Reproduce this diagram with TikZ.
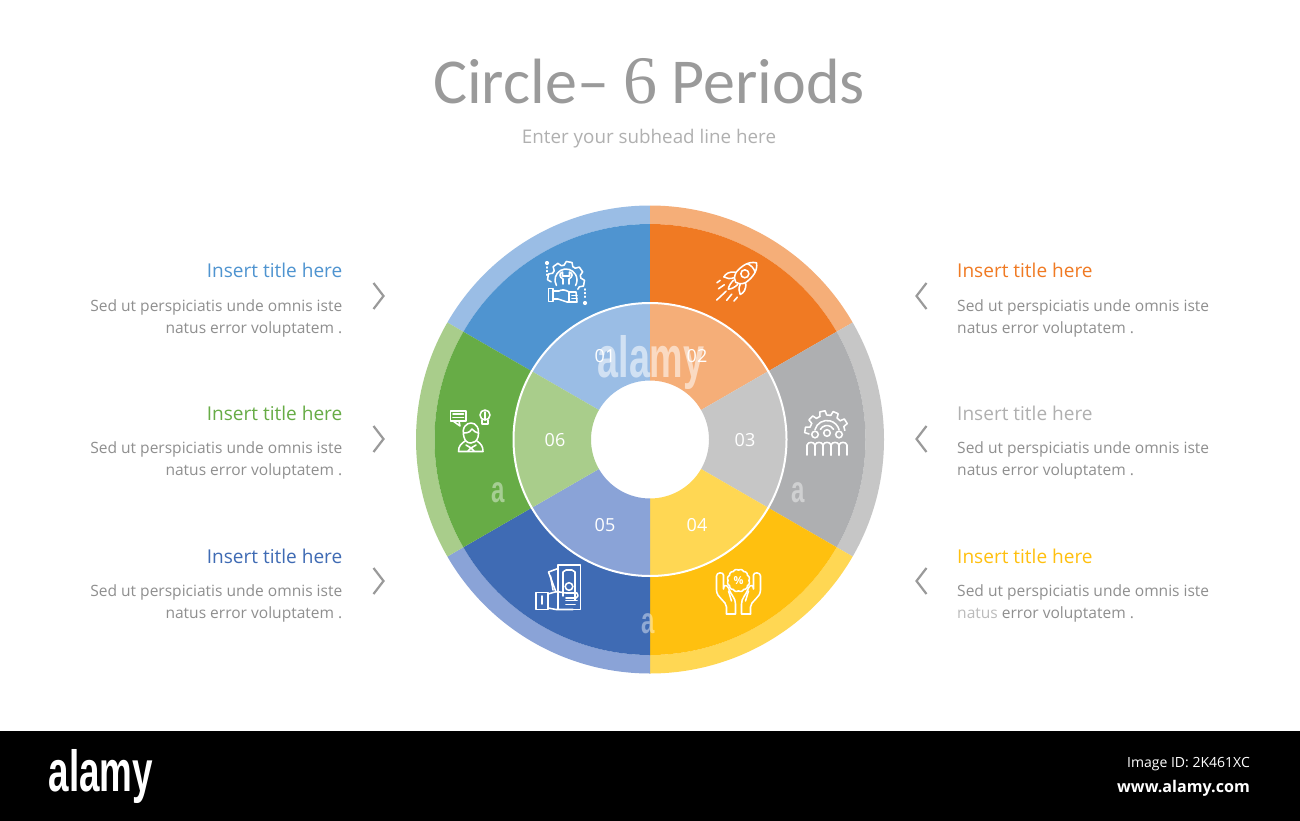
\documentclass[tikz,border=0pt]{standalone}
\usepackage{fontspec}
\setmainfont{Open Sans}
\newfontfamily\ttlfont{Carlito}
\newfontfamily\sixfont{Liberation Serif}
\newfontfamily\wmfont{Liberation Sans}
\usetikzlibrary{calc}
\definecolor{cBlue}{HTML}{4F94D0}\definecolor{lBlue}{HTML}{9ABDE5}
\definecolor{cOrange}{HTML}{F07A23}\definecolor{lOrange}{HTML}{F5AE78}
\definecolor{cGray}{HTML}{AEAFB1}\definecolor{lGray}{HTML}{C6C6C6}
\definecolor{cYellow}{HTML}{FFC00F}\definecolor{lYellow}{HTML}{FFD753}
\definecolor{cNavy}{HTML}{3F6BB4}\definecolor{lNavy}{HTML}{8AA3D7}
\definecolor{cGreen}{HTML}{67AC46}\definecolor{lGreen}{HTML}{A9CD8B}
\definecolor{tTitle}{HTML}{9A9A9A}\definecolor{tSub}{HTML}{B0B0B0}
\definecolor{tBody}{HTML}{8F8F8F}\definecolor{tChev}{HTML}{9A9A9A}
\newcommand{\ringsec}[5]{\fill[#5] (#1:#3) arc[start angle=#1,end angle=#2,radius=#3] -- (#2:#4) arc[start angle=#2,end angle=#1,radius=#4] -- cycle;}
\tikzset{
 ttl/.style={font=\fontsize{19.05}{22}\selectfont,inner sep=0pt},
 bodyL/.style={font=\fontsize{15.55}{22}\selectfont,text=tBody,align=right,anchor=east,inner sep=0pt},
 bodyR/.style={font=\fontsize{15.55}{22}\selectfont,text=tBody,align=left,anchor=west,inner sep=0pt},
 num/.style={font=\fontsize{18}{20}\selectfont,text=white,inner sep=0pt},
 chev/.style={draw=tChev,line width=2.2pt,line join=miter},
 ico/.style={draw=white,line width=1.55pt,line join=round,line cap=round},
 wm/.style={font=\wmfont\bfseries\fontsize{58}{58}\selectfont,text=white,opacity=.55,inner sep=0pt,xscale=.65},
 wmsmall/.style={wm,opacity=.42,font=\wmfont\bfseries\fontsize{37}{37}\selectfont},
 logotext/.style={font=\wmfont\bfseries\fontsize{58}{58}\selectfont,text=white,inner sep=0pt,xscale=.635},
}
\begin{document}
\begin{tikzpicture}[x=1pt,y=1pt,yscale=-1]
\useasboundingbox (0,0) rectangle (1300,821);
\fill[white] (0,0) rectangle (1300,821);
\fill[black] (0,731) rectangle (1300,821);
% wheel
\begin{scope}[shift={(650,439.5)}]
 \foreach \a/\b/\c/\d in {-150/-90/cBlue/lBlue,-90/-30/cOrange/lOrange,-30/30/cGray/lGray,30/90/cYellow/lYellow,90/150/cNavy/lNavy,150/210/cGreen/lGreen}{
  \ringsec{\a}{\b}{234}{215.5}{\d}
  \ringsec{\a}{\b}{215.5}{136.5}{\c}
  \ringsec{\a}{\b}{136.5}{59}{\d}
 }
 \draw[white,line width=2pt] (0,0) circle[radius=136.5];
\end{scope}
% title
\node[inner sep=0pt,text=tTitle,font=\ttlfont\fontsize{64}{70}\selectfont] (title) at (649,81) {Circle– {\sixfont\fontsize{68}{70}\selectfont 6} Periods};
\node[inner sep=0pt,text=tSub,font=\fontsize{18.8}{22}\selectfont] (sub) at (649,139) {Enter your subhead line here};
% left texts
\node[ttl,text=cBlue,anchor=east] (t1) at (342.5,270.5) {Insert title here};
\node[ttl,text=cGreen,anchor=east] (t6) at (342.5,413.5) {Insert title here};
\node[ttl,text=cNavy,anchor=east] (t5) at (342.5,556) {Insert title here};
\node[bodyL] (b1) at (342.5,318) {Sed ut perspiciatis unde omnis iste\\natus error voluptatem .};
\node[bodyL] (b6) at (342.5,460.5) {Sed ut perspiciatis unde omnis iste\\natus error voluptatem .};
\node[bodyL] (b5) at (342.5,603) {Sed ut perspiciatis unde omnis iste\\natus error voluptatem .};
% right texts
\node[ttl,text=cOrange,anchor=west] (t2) at (957,270.5) {Insert title here};
\node[ttl,text=tSub,anchor=west] (t3) at (957,413.5) {Insert title here};
\node[ttl,text=cYellow,anchor=west] (t4) at (957,556) {Insert title here};
\node[bodyR] (b2) at (957,318) {Sed ut perspiciatis unde omnis iste\\natus error voluptatem .};
\node[bodyR] (b3) at (957,460.5) {Sed ut perspiciatis unde omnis iste\\natus error voluptatem .};
\node[bodyR] (b4) at (957,603) {Sed ut perspiciatis unde omnis iste\\natus error voluptatem .};
\fill[white,opacity=.4] (957,606) rectangle (998,620);
% chevrons
\foreach \y in {296,439,581}{
 \draw[chev] (373.5,\y-13) -- (383.5,\y) -- (373.5,\y+13);
 \draw[chev] (926.5,\y-13) -- (916.5,\y) -- (926.5,\y+13);
}
% watermark (behind numbers)
\node[wm] (wmain) at (651,363) {alamy};
\node[wmsmall] (wa1) at (498,493) {a};
\node[wmsmall] (wa2) at (798,493) {a};
\node[wmsmall] (wa3) at (648,624) {a};
% numbers
\node[num] (n1) at (605,356.5) {01};
\node[num] (n2) at (697,356.5) {02};
\node[num] (n3) at (745,440.5) {03};
\node[num] (n4) at (697,525.5) {04};
\node[num] (n5) at (605,525.5) {05};
\node[num] (n6) at (555,440.5) {06};
% icon 1: gear, wrench and hand
\begin{scope}[shift={(566,280)}]
 \foreach \a in {-170,-125,-80,-35,10}{
  \draw[ico] (\a-17:15) -- (\a-9:18.5) -- (\a+9:18.5) -- (\a+17:15) arc[start angle=\a+17,end angle=\a+28,radius=15];
 }
 \draw[ico] (150:11) arc[start angle=150,end angle=390,radius=11];
 \draw[ico] (-3,4) -- (-3,-1) .. controls (-7,-3) and (-7,-7) .. (-3.5,-8) -- (-3.5,-4) -- (3.5,-4) -- (3.5,-8) .. controls (7,-7) and (7,-3) .. (3,-1) -- (3,4);
\end{scope}
\draw[ico] (548.5,288.5) rectangle (553,301.5);
\draw[ico] (553,291) -- (559,291) .. controls (562,289) and (566,290) .. (569,292) -- (576,292) -- (577,302) -- (567,302) -- (558,299) -- (553,299);
\draw[ico] (569,292) -- (569,302) (572,295.5) -- (577,295.5) (572,298.7) -- (577,298.7);
\fill[white] (547,263) circle[radius=2.1] (585,303) circle[radius=2.1];
\draw[ico,dash pattern=on 1pt off 2.6pt] (547,267) -- (547,277);
\draw[ico,dash pattern=on 1pt off 2.6pt] (585,289) -- (585,299);
% icon 2: rocket
\begin{scope}[shift={(743,275.5)},rotate=-43]
 \draw[ico] (18.5,0) .. controls (14,-7) and (5,-8) .. (-3,-7) .. controls (-8,-5) and (-9,-3) .. (-10,0) .. controls (-9,3) and (-8,5) .. (-3,7) .. controls (5,8) and (14,7) .. cycle;
 \draw[ico] (11,-6) .. controls (13,-2) and (13,2) .. (11,6);
 \draw[ico] (2.5,0) circle[radius=4];
 \draw[ico] (-3,-7) .. controls (-7,-13) and (-12,-13) .. (-15,-12) .. controls (-14,-9) and (-12,-6) .. (-8,-4.5);
 \draw[ico] (-3,7) .. controls (-7,13) and (-12,13) .. (-15,12) .. controls (-14,9) and (-12,6) .. (-8,4.5);
 \draw[ico] (-10,-3) .. controls (-14,-3) and (-18,-2) .. (-20,0) .. controls (-18,2) and (-14,3) .. (-10,3);
 \draw[ico] (-20,-6) -- (-27,-7) (-23,0) -- (-36,0) (-21,6) -- (-29,7) (-20,-12) -- (-24,-12.5) (-19,12) -- (-24,12.5);
\end{scope}
% icon 3: gear and people
\begin{scope}[shift={(827,433)}]
 \foreach \a in {-172,-137,-102,-67,-32}{
  \draw[ico] (\a-11:18) -- (\a-7:22.3) -- (\a+7:22.3) -- (\a+11:18) arc[start angle=\a+11,end angle=\a+24,radius=18];
 }
 \draw[ico] (-165:12.5) arc[start angle=-165,end angle=-15,radius=12.5];
 \draw[ico] (-150:7.5) arc[start angle=-150,end angle=-30,radius=7.5];
 \draw[ico] (-12,1.5) circle[radius=3.3] (0,0) circle[radius=3.3] (12,1.5) circle[radius=3.3];
 \foreach \x in {-16,-8,0,8,16}{
  \draw[ico] (\x-4,22) -- (\x-4,12) .. controls (\x-3,8.5) and (\x+3,8.5) .. (\x+4,12) -- (\x+4,22);
 }
\end{scope}
% icon 4: hands and percent badge
\draw[ico,domain=0:360,samples=121,smooth] plot ({738.5+(10.3+.9*abs(sin(6*\x)))*cos(\x)},{580.5+(10.3+.9*abs(sin(6*\x)))*sin(\x)});
\node[inner sep=0pt,text=white,font=\bfseries\fontsize{11}{12}\selectfont] (pct) at (738.5,580.5) {\%};
\foreach \s in {1,-1}{
 \begin{scope}[shift={(738.5,0)},xscale=\s]
  \draw[ico] (-12,614) -- (-3,614) -- (-3,604) .. controls (-3,598) and (-7,596) .. (-10,588) .. controls (-11,585) and (-15,584) .. (-15,589) -- (-15,575);
  \draw[ico] (-15,575) .. controls (-15,572) and (-22,572) .. (-22,576) -- (-22,590) .. controls (-22,598) and (-12,601) .. (-12,607) -- (-12,614);
  \draw[ico] (-10,591) -- (-7,601);
 \end{scope}
}
% icon 5: money in hand
\draw[ico] (558,565) rectangle (580.5,609.5);
\draw[ico] (556,592) -- (548.5,572) -- (558,568.5);
\draw[ico] (553,590) -- (550.5,576);
\draw[ico] (563,596) -- (563,572) -- (566,570) -- (572,570) -- (575,572) -- (575,600);
\draw[ico] (569,586.5) circle[radius=3.8];
\draw[ico] (536,592.5) rectangle (548,609.5);
\draw[ico] (542,596) -- (542,604);
\draw[ico] (548,594) -- (555,592) .. controls (559,591) and (562,593) .. (566,593) -- (577,593) .. controls (578.5,595) and (578.5,597) .. (576,598) -- (566,598);
\draw[ico] (566,600.5) -- (577,600.5) (566,604.5) -- (575,604.5);
\draw[ico] (548,608) -- (556,609.5) -- (573,609.5);
% icon 6: person, speech bubble, bulb
\draw[ico] (450.5,411) rectangle (466,421);
\draw[ico] (453,421) -- (460,426) -- (459,421);
\draw[ico] (453,414) -- (463.5,414) (453,417.5) -- (463.5,417.5);
\draw[ico] (485,415) circle[radius=5];
\draw[ico] (482,420) -- (482,424) -- (488,424) -- (488,420) (485,412) -- (485,420);
\draw[ico] (464,437) .. controls (461,427) and (467,423) .. (471,423) .. controls (476,423) and (480,428) .. (478,437) .. controls (477,441) and (474,443) .. (471,443) .. controls (467,443) and (465,441) .. (464,437);
\draw[ico] (464,433) .. controls (469,433) and (471,431) .. (472,429) .. controls (474,431) and (476,433) .. (478.5,433);
\draw[ico] (465,441) .. controls (461,444) and (458.5,446) .. (458.5,451.5) -- (483,451.5) .. controls (483,446) and (481,444) .. (477,441);
\draw[ico] (466,445) -- (471,448) -- (476,445) (471,448) -- (468,451) (471,448) -- (474,451);
% footer
\node[logotext] (logo) at (101,776) {alamy};
\node[inner sep=0pt,anchor=east,text=white,font=\fontsize{14}{16}\selectfont] (imgid) at (1250,764.5) {Image ID: 2K461XC};
\node[inner sep=0pt,anchor=east,text=white,font=\bfseries\fontsize{16.1}{18}\selectfont] (site) at (1250,788) {www.alamy.com};
\end{tikzpicture}
\end{document}
